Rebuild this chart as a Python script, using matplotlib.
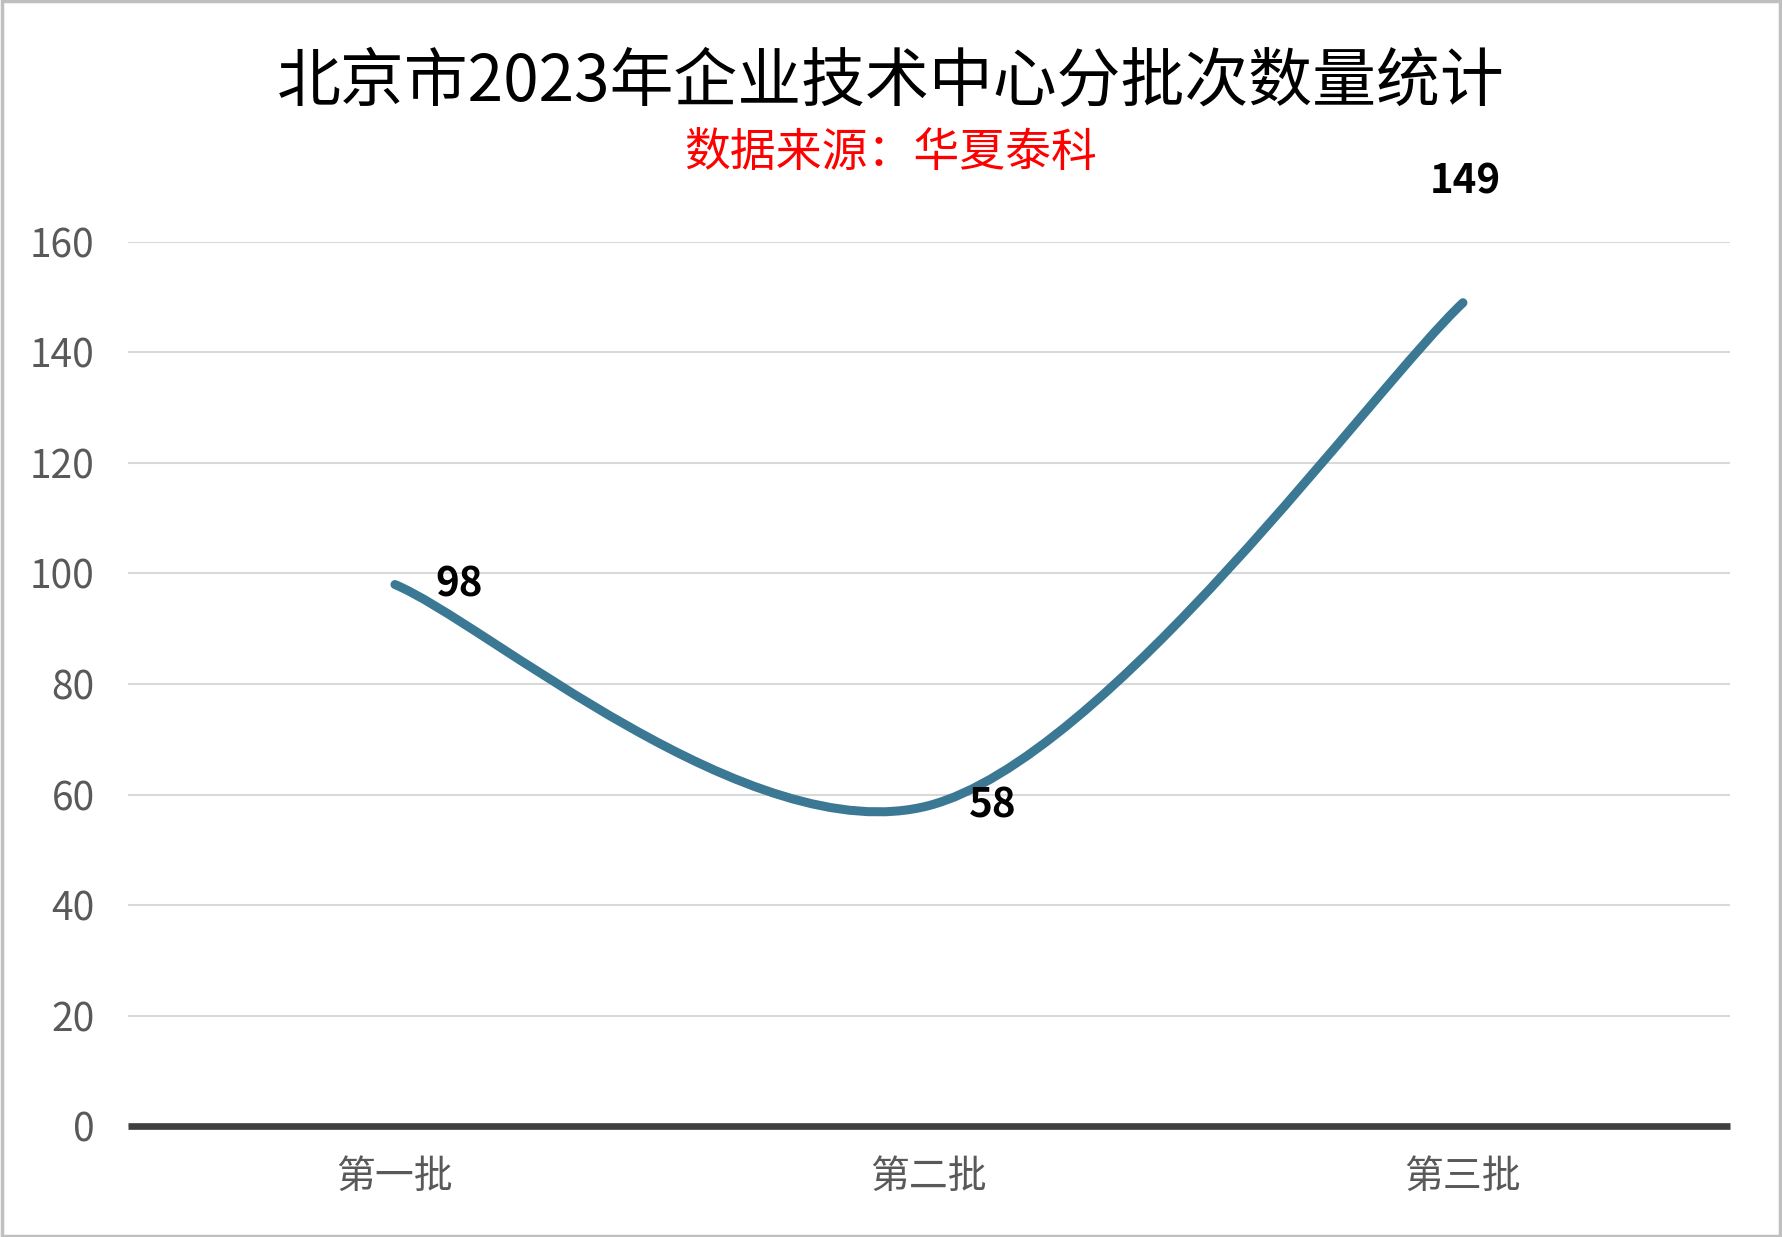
import matplotlib
matplotlib.use('Agg')
from matplotlib import pyplot as plt
from matplotlib.path import Path
from matplotlib.patches import PathPatch, Rectangle
import numpy as np

plt.rcParams['font.family'] = ['Noto Sans CJK SC', 'DejaVu Sans']

# data
categories = ['第一批', '第二批', '第三批']
counts = [98, 58, 149]
y_ticks = [0, 20, 40, 60, 80, 100, 120, 140, 160]

title = '北京市2023年企业技术中心分批次数量统计'
subtitle = '数据来源：华夏泰科'

line_color = '#3A7893'

fig = plt.figure(figsize=(17.82, 12.37), dpi=100)
ax = fig.add_axes([0.0718, 0.0897, 0.899, 0.7147])

x = np.arange(len(counts), dtype=float)
y = np.array(counts, dtype=float)

# smoothed line (excel-style bezier through the points)
pts = np.column_stack([x, y])
verts = [pts[0]]
codes = [Path.MOVETO]
n = len(pts)
for i in range(n - 1):
    p_prev = pts[max(i - 1, 0)]
    p0 = pts[i]
    p1 = pts[i + 1]
    p_next = pts[min(i + 2, n - 1)]
    c1 = p0 + (p1 - p_prev) / 6.0
    c2 = p1 - (p_next - p0) / 6.0
    verts += [c1, c2, p1]
    codes += [Path.CURVE4] * 3
curve = PathPatch(Path(verts, codes), facecolor='none', edgecolor=line_color,
                  linewidth=6.5, capstyle='round', joinstyle='round', zorder=3)
ax.add_patch(curve)

ax.set_xlim(-0.5, len(counts) - 0.5)
ax.set_ylim(0, 160)
ax.set_yticks(y_ticks)
ax.set_xticks(x)
ax.set_xticklabels(categories)

ax.grid(axis='y', color='#D9D9D9', linewidth=1.5, zorder=0)
ax.set_axisbelow(True)
for s in ['top', 'right', 'left']:
    ax.spines[s].set_visible(False)
ax.spines['bottom'].set_color('#404040')
ax.spines['bottom'].set_linewidth(4.8)
ax.spines['bottom'].set_capstyle('butt')
ax.spines['bottom'].set_zorder(4)
ax.tick_params(axis='both', length=0, labelsize=28, colors='#595959')
ax.tick_params(axis='y', pad=24)
ax.tick_params(axis='x', pad=22)

# data labels
for i, v in enumerate(counts):
    if i == len(counts) - 1:
        ax.annotate(str(v), (x[i], v), xytext=(2, 87), textcoords='offset points',
                    ha='center', va='center', fontsize=29, fontweight='bold', color='black')
    else:
        ax.annotate(str(v), (x[i], v), xytext=(29, 0), textcoords='offset points',
                    ha='left', va='center', fontsize=29, fontweight='bold', color='black')

fig.text(0.5, 1 - 82 / 1237, title, ha='center', va='center', fontsize=46, color='black')
fig.text(0.5, 1 - 153 / 1237, subtitle, ha='center', va='center', fontsize=33, color='#FF0000')

# outer frame
fig.patches.append(Rectangle((0.001, 0.001), 0.998, 0.998, transform=fig.transFigure,
                             fill=False, edgecolor='#BFBFBF', linewidth=2.5))

fig.savefig('out.png', dpi=100)
